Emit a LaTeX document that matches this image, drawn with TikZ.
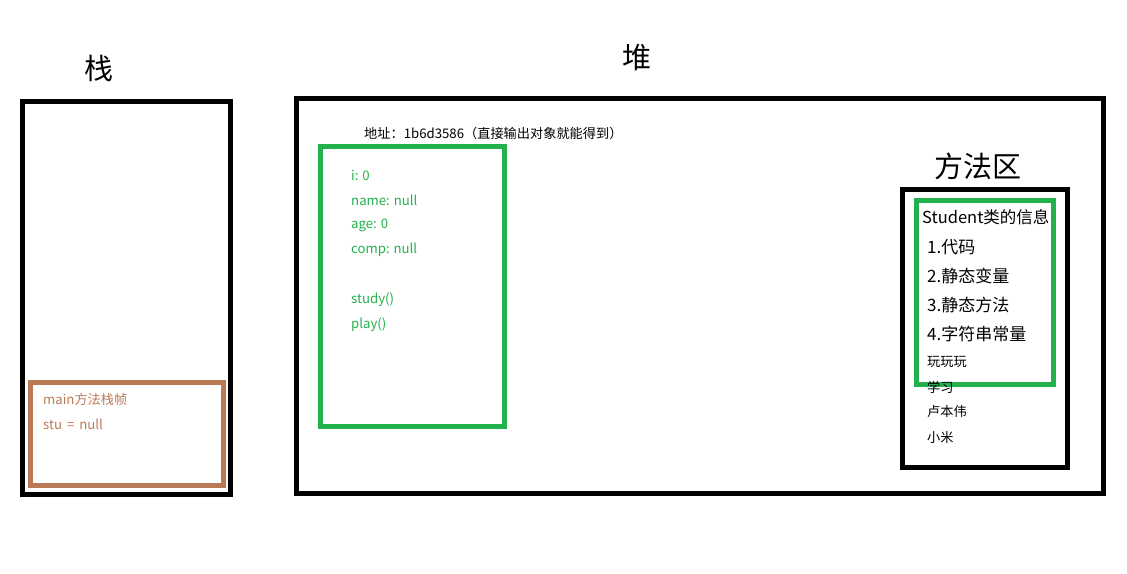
\documentclass[tikz,border=0pt]{standalone}
\usepackage{fontspec}
\setmainfont{Noto Sans CJK SC}
\definecolor{pgreen}{HTML}{22B14C}
\definecolor{pbrown}{HTML}{B97A57}
\begin{document}
\begin{tikzpicture}[x=1pt,y=-1pt,
  box/.style={draw=black,line width=5pt},
  gbox/.style={draw=pgreen,line width=5pt},
  bbox/.style={draw=pbrown,line width=5pt},
  title/.style={font=\fontsize{29}{32}\selectfont,inner sep=0pt},
  small/.style={anchor=west,inner sep=0pt,font=\fontsize{13.2}{15}\selectfont},
  gtxt/.style={small,text=pgreen},
  btxt/.style={small,text=pbrown},
  item/.style={anchor=west,inner sep=0pt,font=\fontsize{17}{19}\selectfont},
]
\useasboundingbox (0,0) rectangle (1127,573);
% stack
\node[title] (tstack) at (99,68) {栈};
\draw[box] (22.5,101.5) rectangle (230.5,494.5);
\draw[bbox] (30.5,382.5) rectangle (223.5,485.5);
\node[btxt] (m1) at (43,399) {main方法栈帧};
\node[btxt] (m2) at (43,424) {stu\hspace{2pt} = \hspace{2pt}null};
% heap
\node[title] (theap) at (637,58) {堆};
\draw[box] (296.5,98.5) rectangle (1103.5,493.5);
\node[small] (addr) at (364,133) {地址：1b6d3586（直接输出对象就能得到）};
\draw[gbox] (320.5,146.5) rectangle (504.5,426);
\node[gtxt] (f1) at (351,175) {i: 0};
\node[gtxt] (f2) at (351,200) {name: null};
\node[gtxt] (f3) at (351,225) {age: 0};
\node[gtxt] (f4) at (351,250) {comp: null};
\node[gtxt] (f5) at (351,300) {study()};
\node[gtxt] (f6) at (351,325) {play()};
% method area
\node[title] (tmeth) at (978,166) {方法区};
\draw[box] (902.5,189.5) rectangle (1067.5,467.5);
\draw[gbox] (916.5,200.5) rectangle (1053.5,384.5);
\node[anchor=west,inner sep=0pt,font=\fontsize{16.5}{18}\selectfont] (s0) at (922,217) {Student类的信息};
\node[item] (s1) at (927,247) {1.代码};
\node[item] (s2) at (927,276) {2.静态变量};
\node[item] (s3) at (927,305) {3.静态方法};
\node[item] (s4) at (927,334) {4.字符串常量};
\node[small] (c1) at (927,362) {玩玩玩};
\node[small] (c2) at (927,387) {学习};
\node[small] (c3) at (927,411) {卢本伟};
\node[small] (c4) at (927,437) {小米};
\end{tikzpicture}
\end{document}
